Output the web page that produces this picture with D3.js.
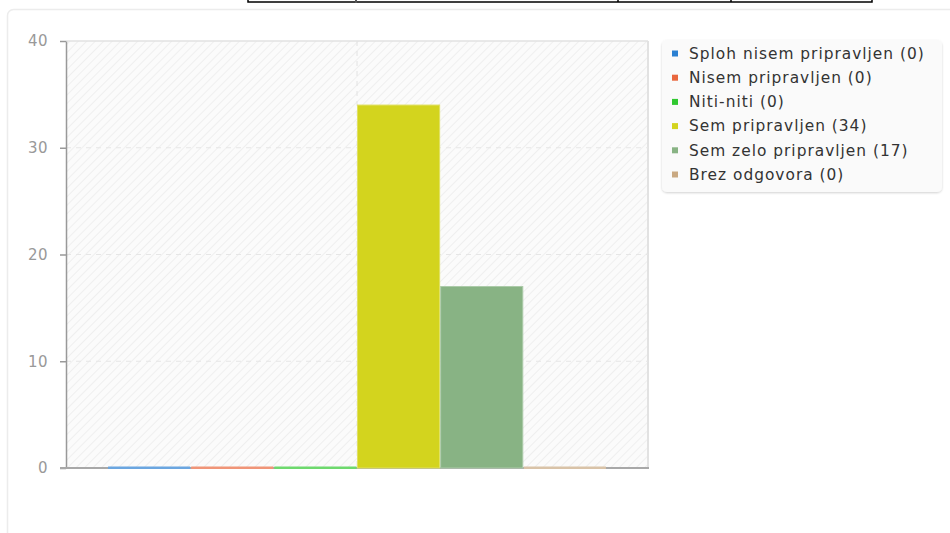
<!DOCTYPE html>
<html>
<head>
<meta charset="utf-8">
<script src="https://cdn.jsdelivr.net/npm/d3@7"></script>
<style>
  html, body { margin: 0; padding: 0; background: #fff; overflow: hidden; }
  svg { display: block; font-family: "DejaVu Sans", sans-serif; }
</style>
</head>
<body>
<svg id="chart" width="950" height="533"></svg>
<script>
// Answer categories and their counts
const categories = ["Sploh nisem pripravljen", "Nisem pripravljen", "Niti-niti", "Sem pripravljen", "Sem zelo pripravljen", "Brez odgovora"];
const counts = [0, 0, 0, 34, 17, 0];
const fillColors = ["#2b80d2", "#e9673e", "#30c830", "#d3d41e", "#88b384", "#c9a982"];
const yTicks = [0, 10, 20, 30, 40];

const svg = d3.select("#chart");
const plot = { left: 66, right: 648, top: 41, bottom: 468 };

// Header table remnant at the top
const hdr = svg.append("g");
hdr.append("rect").attr("x", 248).attr("y", -30).attr("width", 624).attr("height", 32)
  .attr("fill", "none").attr("stroke", "#000").attr("stroke-width", 1.5);
[618, 731].forEach(x => hdr.append("line").attr("x1", x).attr("x2", x).attr("y1", -5).attr("y2", 2)
  .attr("stroke", "#000").attr("stroke-width", 1.5));
hdr.append("rect").attr("x", 355).attr("y", 0).attr("width", 2).attr("height", 3).attr("fill", "#555");

// Outer panel
svg.append("rect").attr("x", 7.5).attr("y", 9.5).attr("width", 1000).attr("height", 600)
  .attr("rx", 6).attr("fill", "#fff").attr("stroke", "#ececec").attr("stroke-width", 1.5);

// Hatched plot background
const defs = svg.append("defs");
const pat = defs.append("pattern").attr("id", "hatch").attr("patternUnits", "userSpaceOnUse")
  .attr("width", 6).attr("height", 6).attr("patternTransform", "rotate(45)");
pat.append("rect").attr("width", 6).attr("height", 6).attr("fill", "#fbfbfb");
pat.append("line").attr("x1", 0).attr("x2", 0).attr("y1", 0).attr("y2", 6)
  .attr("stroke", "#efefef").attr("stroke-width", 2);

svg.append("rect").attr("x", plot.left).attr("y", plot.top)
  .attr("width", plot.right - plot.left).attr("height", plot.bottom - plot.top)
  .attr("fill", "url(#hatch)");

// Scales
const y = d3.scaleLinear().domain([0, 40]).range([plot.bottom, plot.top]);
const x = d3.scaleBand().domain(categories).range([plot.left, plot.right]).paddingOuter(0.5).paddingInner(0);

// Plot frame (top and right)
svg.append("line").attr("x1", plot.left).attr("x2", plot.right).attr("y1", plot.top).attr("y2", plot.top)
  .attr("stroke", "#e2e2e2").attr("stroke-width", 1.5);
svg.append("line").attr("x1", plot.right).attr("x2", plot.right).attr("y1", plot.top).attr("y2", plot.bottom)
  .attr("stroke", "#e2e2e2").attr("stroke-width", 2);

// Grid lines
const grid = svg.append("g");
grid.selectAll("line.h").data(yTicks.filter(t => t > 0 && t < 40)).join("line")
  .attr("x1", plot.left).attr("x2", plot.right)
  .attr("y1", d => y(d)).attr("y2", d => y(d))
  .attr("stroke", "#e6e6e6").attr("stroke-dasharray", "5,5");
const xc = (plot.left + plot.right) / 2;
grid.append("line").attr("x1", xc).attr("x2", xc).attr("y1", plot.top).attr("y2", plot.bottom)
  .attr("stroke", "#e2e2e2").attr("stroke-dasharray", "5,5");

// Y axis
const yAxis = svg.append("g").attr("transform", `translate(${plot.left},0)`)
  .call(d3.axisLeft(y).tickValues(yTicks).tickSize(6).tickPadding(12).tickSizeOuter(0));
yAxis.select(".domain").attr("stroke", "#999").attr("stroke-width", 1.5);
yAxis.selectAll(".tick line").attr("stroke", "#999").attr("stroke-width", 1.5);
yAxis.selectAll(".tick text").attr("fill", "#999").attr("font-size", 15)
  .attr("letter-spacing", "0.5px")
  .attr("font-family", "DejaVu Sans, sans-serif");

// X axis baseline
svg.append("line").attr("x1", plot.left - 6).attr("x2", plot.right + 1).attr("y1", plot.bottom).attr("y2", plot.bottom)
  .attr("stroke", "#a8a8a8").attr("stroke-width", 2);

// Bars (zero counts show as a thin coloured line on the baseline)
const lighter = c => d3.interpolateRgb(c, "#ffffff")(0.3);
svg.append("g").selectAll("rect").data(categories).join("rect")
  .attr("x", d => x(d) + 0.5)
  .attr("y", (d, i) => counts[i] === 0 ? y(0) - 1.5 : y(counts[i]))
  .attr("width", x.bandwidth() - 1)
  .attr("height", (d, i) => counts[i] === 0 ? 2.5 : y(0) - y(counts[i]))
  .attr("fill", (d, i) => counts[i] === 0 ? lighter(fillColors[i]) : fillColors[i])
  .attr("stroke", (d, i) => counts[i] === 0 ? "none" : lighter(fillColors[i]))
  .attr("stroke-width", 1);

// Legend
const lg = svg.append("g");
const fshadow = defs.append("filter").attr("id", "shadow").attr("x", "-10%").attr("y", "-10%")
  .attr("width", "120%").attr("height", "130%");
fshadow.append("feDropShadow").attr("dx", 0).attr("dy", 1).attr("stdDeviation", 1.2)
  .attr("flood-color", "#000").attr("flood-opacity", 0.18);
lg.append("rect").attr("x", 662).attr("y", 40).attr("width", 280).attr("height", 152)
  .attr("rx", 5).attr("fill", "#fafafa").attr("filter", "url(#shadow)");
const item = lg.selectAll("g.item").data(categories).join("g").attr("class", "item")
  .attr("transform", (d, i) => `translate(672,${53.5 + i * 24.2})`);
item.append("rect").attr("x", 0).attr("y", -3).attr("width", 6).attr("height", 6)
  .attr("fill", (d, i) => fillColors[i]);
item.append("text").attr("x", 17).attr("y", 0).attr("dy", "0.35em")
  .attr("font-size", 15.4).attr("letter-spacing", "1px").attr("fill", "#333")
  .text((d, i) => `${d} (${counts[i]})`);
</script>
</body>
</html>
